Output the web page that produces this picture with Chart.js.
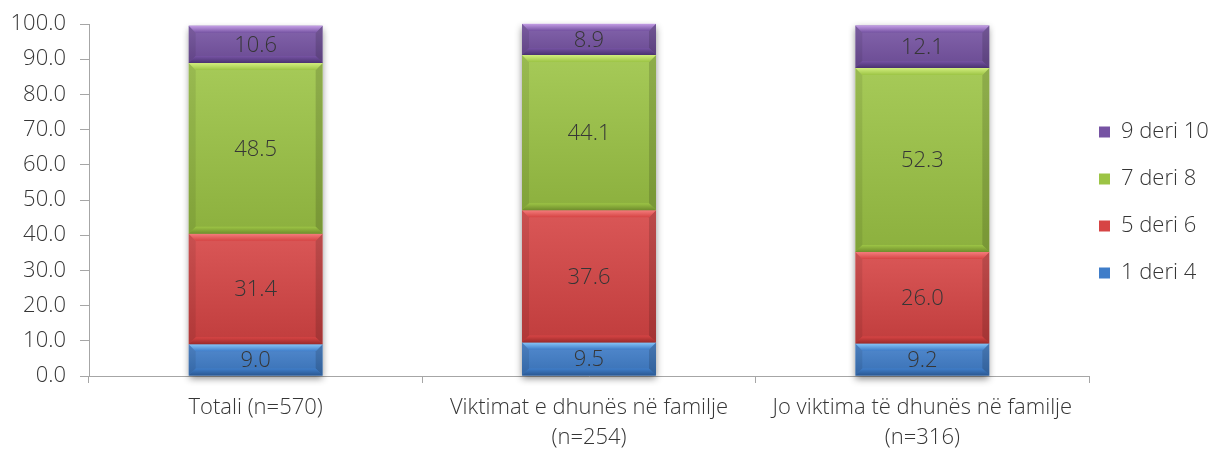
<!DOCTYPE html>
<html>
<head>
<meta charset="utf-8">
<script src="https://cdn.jsdelivr.net/npm/chart.js@4/dist/chart.umd.min.js"></script>
<style>
  html, body { margin: 0; padding: 0; background: #fff; overflow: hidden; }
</style>
</head>
<body>
<canvas id="myChart" width="1218" height="452"></canvas>
<script>
// kategoritë
var categories = [
    'Totali (n=570)',
    ['Viktimat e dhunës në familje', '(n=254)'],
    ['Jo viktima të dhunës në familje', '(n=316)']
];
// seritë (nga poshtë lart)
var seriesNames = ['1 deri 4', '5 deri 6', '7 deri 8', '9 deri 10'];
var v1to4  = [9.0, 9.5, 9.2];
var v5to6  = [31.4, 37.6, 26.0];
var v7to8  = [48.5, 44.1, 52.3];
var v9to10 = [10.6, 8.9, 12.1];
var yTicks = [0, 100, 10];

// ngjyrat: [kryesore, dritë sipër, errët poshtë]
var colors = [
    ['#3f7dc9', '#86c4f6', '#2a5791'],
    ['#d64444', '#f47c7c', '#982a2a'],
    ['#9cc445', '#d2ee7e', '#6f8c2c'],
    ['#7653a3', '#c59fe6', '#4a3270']
];

var FONT = '"Open Sans", Lato, sans-serif';
var FS = 22;
var TXT = '#363636';
var LEG_PAD = 25;

// efekti i relievit + etiketat e vlerave
var bevelPlugin = {
    id: 'bevel',
    beforeDatasetsDraw: function (chart) {
        var ctx = chart.ctx;
        var first = chart.getDatasetMeta(0).data;
        var last = chart.getDatasetMeta(chart.data.datasets.length - 1).data;
        ctx.save();
        ctx.shadowColor = 'rgba(0,0,0,0.45)';
        ctx.shadowBlur = 7;
        ctx.shadowOffsetY = 3;
        ctx.fillStyle = '#fff';
        first.forEach(function (bar, i) {
            var top = last[i].y, w = bar.width;
            ctx.fillRect(bar.x - w / 2, top, w, bar.base - top);
        });
        ctx.restore();
    },
    afterDatasetsDraw: function (chart) {
        var ctx = chart.ctx;
        chart.data.datasets.forEach(function (ds, di) {
            var meta = chart.getDatasetMeta(di);
            var c = colors[di];
            meta.data.forEach(function (bar, i) {
                var l = bar.x - bar.width / 2, r = bar.x + bar.width / 2;
                var t = bar.y, b = bar.base;
                var h = b - t, bv = Math.min(7, h / 3);
                ctx.save();
                // gradient i lehtë vertikal
                var g = ctx.createLinearGradient(0, t, 0, b);
                g.addColorStop(0, 'rgba(255,255,255,0.10)');
                g.addColorStop(1, 'rgba(0,0,0,0.10)');
                ctx.fillStyle = g;
                ctx.fillRect(l, t, r - l, h);
                // ana e majtë / djathtë
                ctx.fillStyle = 'rgba(0,0,0,0.08)';
                ctx.beginPath();
                ctx.moveTo(l, t); ctx.lineTo(l + bv, t + bv); ctx.lineTo(l + bv, b - bv); ctx.lineTo(l, b);
                ctx.closePath(); ctx.fill();
                ctx.fillStyle = 'rgba(0,0,0,0.14)';
                ctx.beginPath();
                ctx.moveTo(r, t); ctx.lineTo(r - bv, t + bv); ctx.lineTo(r - bv, b - bv); ctx.lineTo(r, b);
                ctx.closePath(); ctx.fill();
                // sipër
                var gt = ctx.createLinearGradient(0, t, 0, t + bv);
                gt.addColorStop(0, c[1]);
                gt.addColorStop(1, c[0]);
                ctx.fillStyle = gt;
                ctx.beginPath();
                ctx.moveTo(l, t); ctx.lineTo(r, t); ctx.lineTo(r - bv, t + bv); ctx.lineTo(l + bv, t + bv);
                ctx.closePath(); ctx.fill();
                // poshtë
                var gb = ctx.createLinearGradient(0, b - bv, 0, b);
                gb.addColorStop(0, c[0]);
                gb.addColorStop(1, c[2]);
                ctx.fillStyle = gb;
                ctx.beginPath();
                ctx.moveTo(l, b); ctx.lineTo(r, b); ctx.lineTo(r - bv, b - bv); ctx.lineTo(l + bv, b - bv);
                ctx.closePath(); ctx.fill();
                // vlera
                ctx.fillStyle = TXT;
                ctx.font = '300 ' + FS + 'px ' + FONT;
                ctx.textAlign = 'center';
                ctx.textBaseline = 'middle';
                ctx.fillText(ds.data[i].toFixed(1), bar.x, (t + b) / 2 + 1);
                ctx.restore();
            });
        });
    }
};

var ctx = document.getElementById('myChart').getContext('2d');
var chart = new Chart(ctx, {
    type: 'bar',
    data: {
        labels: categories,
        datasets: [v1to4, v5to6, v7to8, v9to10].map(function (d, i) {
            return {
                label: seriesNames[i],
                data: d,
                backgroundColor: colors[i][0],
                borderWidth: 0,
                categoryPercentage: 1,
                barPercentage: 0.402
            };
        })
    },
    options: {
        responsive: false,
        animation: false,
        devicePixelRatio: 1,
        layout: { padding: { top: 24, right: 0, left: 0, bottom: 0 } },
        plugins: {
            tooltip: { enabled: false },
            legend: {
                position: 'right',
                reverse: true,
                align: 'start',
                title: { display: true, text: ' ', font: { size: 10 }, padding: { top: 60, bottom: 0 } },
                labels: {
                    boxWidth: 11,
                    boxHeight: 11,
                    padding: LEG_PAD,
                    color: TXT,
                    font: { family: FONT, size: FS, weight: 300 }
                }
            }
        },
        scales: {
            x: {
                stacked: true,
                grid: { offset: true, drawOnChartArea: false, tickLength: 7, color: '#a6a6a6' },
                border: { color: '#a6a6a6' },
                ticks: { color: TXT, padding: 9, autoSkip: false, font: { family: FONT, size: FS, weight: 300, lineHeight: 1.4 }, maxRotation: 0 },
                afterFit: function (s) { s.height = 76; }
            },
            y: {
                stacked: true,
                min: yTicks[0],
                max: yTicks[1],
                grid: { drawOnChartArea: false, tickLength: 9, color: '#a6a6a6' },
                border: { color: '#a6a6a6' },
                ticks: {
                    stepSize: yTicks[2],
                    color: TXT,
                    padding: 14,
                    font: { family: FONT, size: FS, weight: 300 },
                    callback: function (v) { return v.toFixed(1); }
                },
                afterFit: function (s) { s.width = 89; s.paddingTop = 0; s.paddingBottom = 0; }
            }
        }
    },
    plugins: [bevelPlugin]
});

// legjenda: zona e grafikut mbaron te 1089, kutitë afër boshtit
var lg = chart.legend;
var origFit = lg.fit;
var origDraw = lg.draw;
lg.fit = function () {
    origFit.call(this);
    this.width = chart.width - 1089;
};
lg.draw = function () {
    var l = this.left;
    this.left = l - (LEG_PAD - 10);
    origDraw.call(this);
    this.left = l;
};
chart.update();
</script>
</body>
</html>
